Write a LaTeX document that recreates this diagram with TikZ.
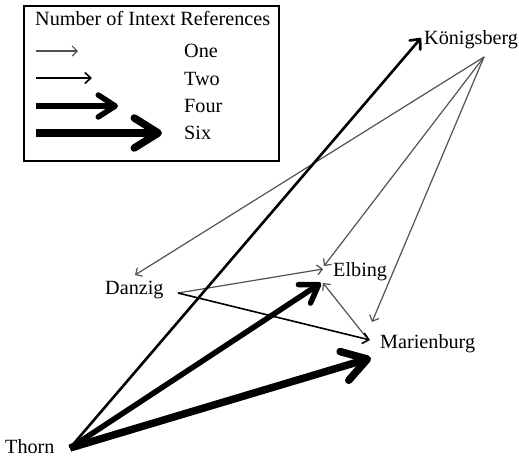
\documentclass[tikz,border=0pt]{standalone}
\usepackage{fontspec}
\setmainfont{Liberation Serif}
\usetikzlibrary{arrows.meta}
\begin{document}
\begin{tikzpicture}[x=1pt,y=-1pt,
 lbl/.style={anchor=base west, inner sep=0pt, font=\fontsize{20.2}{24}\selectfont},
 one/.style={draw=black!68, line width=1.2pt, -{Straight Barb[length=5pt,width=10pt]}},
 two/.style={draw=black, line width=1.6pt, -{Straight Barb[length=6pt,width=11pt]}},
 three/.style={draw=black, line width=2.6pt, -{Straight Barb[length=8pt,width=14pt,round]}},
 four/.style={draw=black, line width=5.5pt, -{Straight Barb[length=17pt,width=22pt,round]}},
 six/.style={draw=black, line width=7.5pt, -{Straight Barb[length=24pt,width=30pt,round]}},
]
\useasboundingbox (0,0) rectangle (519,458);
% legend
\draw[line width=1.2pt] (24,6) rectangle (279,161);
\node[lbl] (title) at (35,25) {Number of Intext References};
\coordinate (l1a) at (36,51);  \coordinate (l1b) at (78,51);
\coordinate (l2a) at (36,78);  \coordinate (l2b) at (92,78);
\coordinate (l4a) at (36,106); \coordinate (l4b) at (118,106);
\coordinate (l6a) at (36,133); \coordinate (l6b) at (162,133);
\draw[one] (l1a) -- (l1b);
\draw[two] (l2a) -- (l2b);
\draw[four] (l4a) -- (l4b);
\draw[six] (l6a) -- (l6b);
\node[lbl] (lone) at (184,57) {One};
\node[lbl] (ltwo) at (184,85) {Two};
\node[lbl] (lfour) at (184,112) {Four};
\node[lbl] (lsix) at (184,139) {Six};
% places
\node[lbl] (kb) at (424,44) {Königsberg};
\node[lbl] (dz) at (105,294) {Danzig};
\node[lbl] (el) at (333,276) {Elbing};
\node[lbl] (mb) at (380,348) {Marienburg};
\node[lbl] (th) at (5,453) {Thorn};
% connection points
\coordinate (kbout) at (484,57);
\coordinate (kbin) at (421,38);
\coordinate (dzout) at (178,293);
\coordinate (dzin) at (135,275);
\coordinate (elinD) at (323,269);
\coordinate (elinK) at (324,266);
\coordinate (elinM) at (323,283);
\coordinate (elinT) at (321,283);
\coordinate (mbout) at (366,337);
\coordinate (mbinD) at (370,340);
\coordinate (mbinK) at (372,322);
\coordinate (mbinT) at (371,358);
\coordinate (thout) at (70,448);
% connectors
\draw[one] (kbout) -- (dzin);
\draw[one] (kbout) -- (elinK);
\draw[one] (kbout) -- (mbinK);
\draw[one] (dzout) -- (elinD);
\draw[one] (mbout) -- (elinM);
\draw[two] (dzout) -- (mbinD);
\draw[three] (thout) -- (kbin);
\draw[four] (thout) -- (elinT);
\draw[six] (thout) -- (mbinT);
\end{tikzpicture}
\end{document}
